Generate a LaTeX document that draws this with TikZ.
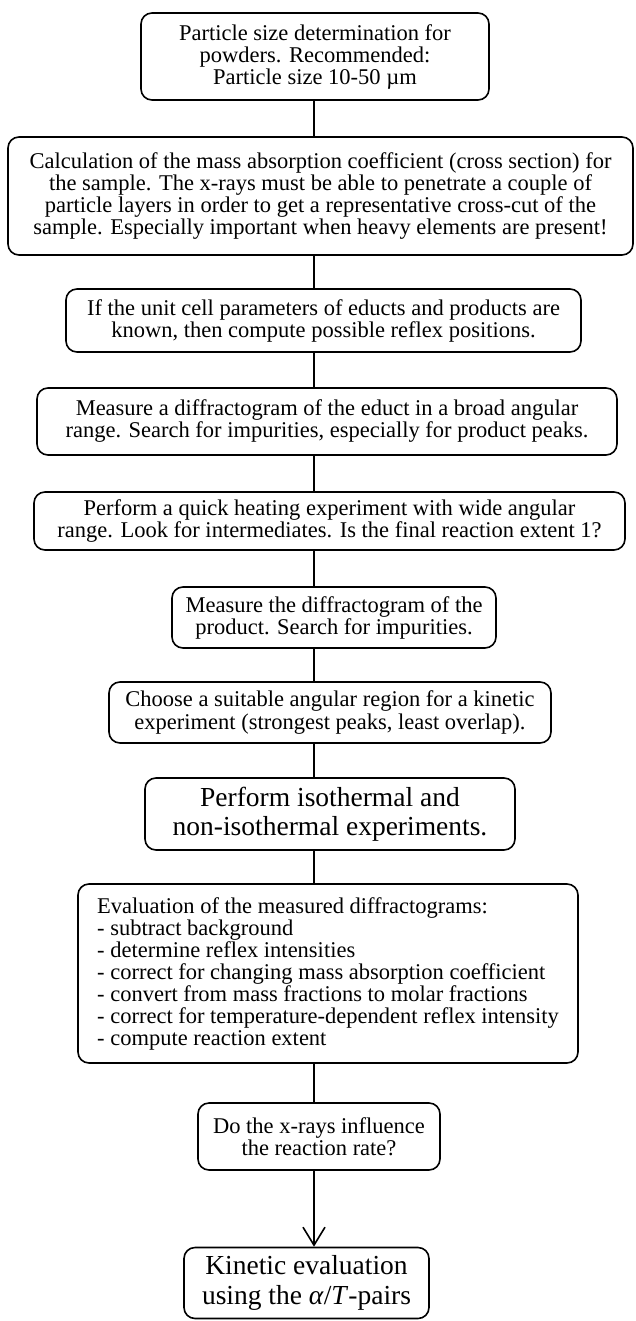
\documentclass[tikz,border=0pt]{standalone}
\usepackage{fontspec}
\setmainfont{Liberation Serif}
\usetikzlibrary{arrows.meta}
\begin{document}
\begin{tikzpicture}[x=1pt,y=-1pt,
  box/.style={draw, line width=1.6pt, rounded corners=11pt, inner sep=0pt, align=center,
    font=\fontsize{22.5}{22}\selectfont},
  bigbox/.style={box, font=\fontsize{27.5}{29.5}\selectfont},
  link/.style={line width=1.6pt}]
\useasboundingbox (0,0) rectangle (635,1321);
\coordinate (axis) at (314,0);
\node[box, minimum width=348pt, minimum height=87pt] (b1) at (315,56.5)
  {Particle size determination for\\powders. Recommended:\\Particle size 10-50 µm};
\node[box, minimum width=625pt, minimum height=118pt] (b2) at (320.5,196)
  {Calculation of the mass absorption coefficient (cross section) for\\the sample. The x-rays must be able to penetrate a couple of\\particle layers in order to get a representative cross-cut of the\\sample. Especially important when heavy elements are present!};
\node[box, minimum width=515pt, minimum height=63pt] (b3) at (323.5,320.5)
  {If the unit cell parameters of educts and products are\\known, then compute possible reflex positions.};
\node[box, minimum width=580pt, minimum height=67pt] (b4) at (327,421.5)
  {Measure a diffractogram of the educt in a broad angular\\range. Search for impurities, especially for product peaks.};
\node[box, minimum width=591pt, minimum height=58pt] (b5) at (329.5,521)
  {Perform a quick heating experiment with wide angular\\range. Look for intermediates. Is the final reaction extent 1?};
\node[box, minimum width=324pt, minimum height=61pt] (b6) at (334,617.5)
  {Measure the diffractogram of the\\product. Search for impurities.};
\node[box, minimum width=442pt, minimum height=61pt] (b7) at (330,712.5)
  {Choose a suitable angular region for a kinetic\\experiment (strongest peaks, least overlap).};
\node[bigbox, minimum width=370pt, minimum height=72pt] (b8) at (330,814)
  {Perform isothermal and\\non-isothermal experiments.};
\node[box, align=left, minimum width=500pt, minimum height=179pt] (b9) at (328,973.5)
  {Evaluation of the measured diffractograms:\\- subtract background\\- determine reflex intensities\\- correct for changing mass absorption coefficient\\- convert from mass fractions to molar fractions\\- correct for temperature-dependent reflex intensity\\- compute reaction extent};
\node[box, minimum width=242pt, minimum height=67pt] (b10) at (319,1136.5)
  {Do the x-rays influence\\the reaction rate?};
\node[bigbox, minimum width=245pt, minimum height=71pt] (b11) at (306.5,1283)
  {Kinetic evaluation\\using the \textit{α}/\textit{T}-pairs};
\draw[link] (b1.south -| axis) -- (b2.north -| axis);
\draw[link] (b2.south -| axis) -- (b3.north -| axis);
\draw[link] (b3.south -| axis) -- (b4.north -| axis);
\draw[link] (b4.south -| axis) -- (b5.north -| axis);
\draw[link] (b5.south -| axis) -- (b6.north -| axis);
\draw[link] (b6.south -| axis) -- (b7.north -| axis);
\draw[link] (b7.south -| axis) -- (b8.north -| axis);
\draw[link] (b8.south -| axis) -- (b9.north -| axis);
\draw[link] (b9.south -| axis) -- (b10.north -| axis);
\draw[link, -{Straight Barb[length=18pt,width=22pt,line width=1.6pt]}] (b10.south -| axis) -- (b11.north -| axis);
\end{tikzpicture}
\end{document}
